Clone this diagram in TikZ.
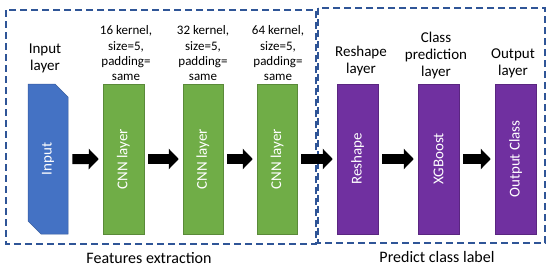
\documentclass[tikz,border=0pt]{standalone}
\usepackage{fontspec}
\setmainfont{Carlito}
\usetikzlibrary{arrows.meta,shapes.misc}
\definecolor{inblue}{HTML}{4472C4}
\definecolor{cnngreen}{HTML}{70AD47}
\definecolor{clspurple}{HTML}{7030A0}
\definecolor{boxblue}{HTML}{2F5597}
\begin{document}
\begin{tikzpicture}[x=1pt,y=-1pt,
  layer/.style={minimum width=150pt,minimum height=41pt,inner sep=0pt,text=white,font=\fontsize{15}{17}\selectfont,rotate=90,line width=0.5pt},
  lbltext/.style={align=center,font=\fontsize{13}{15.3}\selectfont,anchor=south,inner sep=0pt},
  lyrtext/.style={align=center,font=\fontsize{15}{17}\selectfont,anchor=south,inner sep=0pt},
  grp/.style={draw=boxblue,line width=1.6pt,dash pattern=on 7pt off 4pt},
  fat/.style={line width=10pt,-{Triangle[width=20pt,length=10pt]},shorten <=4pt,shorten >=4pt}]
\useasboundingbox (0,0) rectangle (550,269);
\draw[grp] (6,10) rectangle (316,244);
\draw[grp] (318,8) rectangle (545,243);
\node[layer,fill=inblue,draw=inblue!80!black,chamfered rectangle,chamfered rectangle xsep=7pt,chamfered rectangle ysep=7pt,chamfered rectangle corners={north west,south east},minimum height=40pt] (input) at (48,159) {Input};
\node[layer,fill=cnngreen,draw=cnngreen!80!black] (cnn1) at (123.5,159) {CNN layer};
\node[layer,fill=cnngreen,draw=cnngreen!80!black,minimum height=40pt] (cnn2) at (203,159) {CNN layer};
\node[layer,fill=cnngreen,draw=cnngreen!80!black,minimum height=40pt] (cnn3) at (277,159) {CNN layer};
\node[layer,fill=clspurple,draw=clspurple!80!black] (reshape) at (357.5,159) {Reshape};
\node[layer,fill=clspurple,draw=clspurple!80!black] (xgb) at (438.5,159) {XGBoost};
\node[layer,fill=clspurple,draw=clspurple!80!black] (out) at (515.5,159) {Output Class};
\node[lyrtext] (inlbl) at (45,73) {Input\\layer};
\node[lbltext] (k16) at (126,81) {16 kernel,\\size=5,\\padding=\\same};
\node[lbltext] (k32) at (203,81) {32 kernel,\\size=5,\\padding=\\same};
\node[lbltext] (k64) at (278,81) {64 kernel,\\size=5,\\padding=\\same};
\node[lyrtext] (rslbl) at (361,76) {Reshape\\layer};
\node[lyrtext] (cplbl) at (436,79) {Class\\prediction\\layer};
\node[lyrtext] (outlbl) at (513,78) {Output\\layer};
\node[font=\fontsize{16}{18}\selectfont] (fe) at (149,258) {Features extraction};
\node[font=\fontsize{16}{18}\selectfont] (pc) at (437,257) {Predict class label};
\draw[fat] (input)--(cnn1);\draw[fat] (cnn1)--(cnn2);\draw[fat] (cnn2)--(cnn3);
\draw[fat] (cnn3)--(reshape);\draw[fat] (reshape)--(xgb);\draw[fat] (xgb)--(out);
\end{tikzpicture}
\end{document}
